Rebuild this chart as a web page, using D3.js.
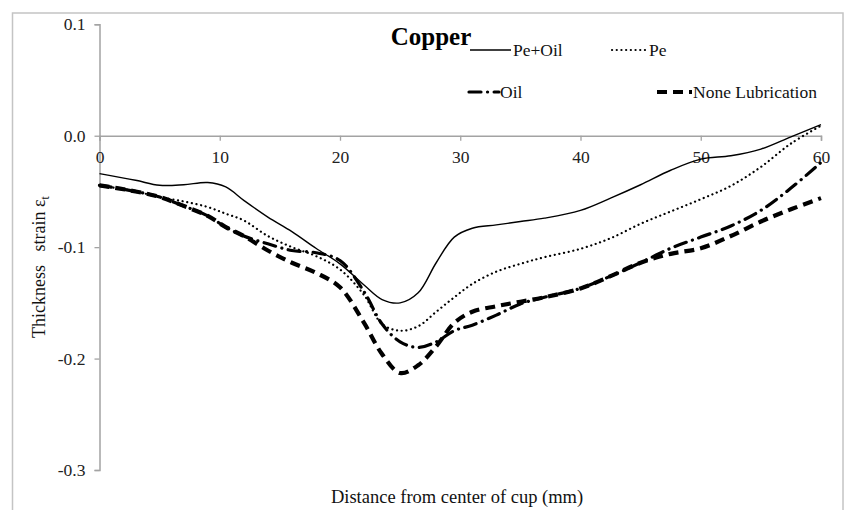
<!DOCTYPE html>
<html><head><meta charset="utf-8">
<script src="https://cdn.jsdelivr.net/npm/d3@7"></script>
<style>
html,body{margin:0;padding:0;background:#fff;}
svg{display:block;font-family:"Liberation Serif","Times New Roman",serif;}
</style></head>
<body>
<svg id="chart" width="846" height="510"></svg>
<script>
const xValues = [0,3,5,7,9,10.5,12,14,16,18,20,22,23.5,25,26.5,28,29.5,31,33,35,37,40,42.5,45,47.5,50,52.5,55,57.5,60];
const peOil = [-0.034,-0.040,-0.0445,-0.044,-0.042,-0.046,-0.058,-0.073,-0.086,-0.101,-0.115,-0.134,-0.147,-0.150,-0.141,-0.114,-0.091,-0.083,-0.080,-0.077,-0.074,-0.067,-0.056,-0.044,-0.031,-0.021,-0.018,-0.012,-0.001,0.010];
const pe = [-0.0445,-0.050,-0.055,-0.059,-0.064,-0.070,-0.076,-0.090,-0.100,-0.108,-0.120,-0.143,-0.169,-0.175,-0.171,-0.158,-0.145,-0.133,-0.122,-0.115,-0.109,-0.1015,-0.092,-0.079,-0.068,-0.057,-0.045,-0.028,-0.007,0.009];
const oil = [-0.0445,-0.050,-0.055,-0.063,-0.072,-0.082,-0.090,-0.097,-0.103,-0.105,-0.112,-0.140,-0.169,-0.185,-0.190,-0.185,-0.175,-0.170,-0.161,-0.151,-0.145,-0.137,-0.126,-0.114,-0.101,-0.091,-0.081,-0.067,-0.047,-0.024];
const noneLub = [-0.0445,-0.050,-0.055,-0.063,-0.072,-0.082,-0.090,-0.103,-0.114,-0.123,-0.136,-0.168,-0.196,-0.213,-0.206,-0.189,-0.168,-0.158,-0.153,-0.149,-0.145,-0.137,-0.126,-0.114,-0.106,-0.101,-0.090,-0.077,-0.066,-0.056];
const seriesNames = ["Pe+Oil","Pe","Oil","None Lubrication"];
const xTicks = [0,10,20,30,40,50,60];
const yTicks = [0.1,0.0,-0.1,-0.2,-0.3];
const chartTitle = "Copper";
const xTitle = "Distance from center of cup (mm)";

const svg = d3.select("#chart");
const axisColor = "#a3a3a3";

// outer border
svg.append("rect").attr("x",12.5).attr("y",13).attr("width",830.5).attr("height",510)
  .attr("fill","none").attr("stroke","#c4c4c4").attr("stroke-width",1.5);

const x = d3.scaleLinear().domain([0,60]).range([99.5,821]);
const y = d3.scaleLinear().domain([-0.3,0.1]).range([470,24.3]);

// y axis
const yAxis = d3.axisLeft(y).tickValues(yTicks).tickSize(5).tickFormat(d3.format(".1f"));
const gy = svg.append("g").attr("transform",`translate(${x(0)},0)`).call(yAxis);
gy.attr("font-family",null).attr("font-size",null);
gy.select(".domain").attr("stroke",axisColor).attr("stroke-width",1.5);
gy.selectAll(".tick line").attr("stroke",axisColor).attr("stroke-width",1.3);
gy.selectAll(".tick text").attr("font-size",17.5).attr("fill","#222").attr("x",-14)
  .text(d=>d3.format(".1f")(d).replace("\u2212","-"));

// x axis at y=0
const xAxis = d3.axisBottom(x).tickValues(xTicks).tickSize(5).tickFormat(d3.format("d"));
const gx = svg.append("g").attr("transform",`translate(0,${y(0)})`).call(xAxis);
gx.attr("font-family",null).attr("font-size",null);
gx.select(".domain").attr("stroke",axisColor).attr("stroke-width",1.5);
gx.selectAll(".tick line").attr("stroke",axisColor).attr("stroke-width",1.3);
gx.selectAll(".tick text").attr("font-size",17.5).attr("fill","#222").attr("y",15);

// lines
const line = d3.line().x((d,i)=>x(xValues[i])).y(d=>y(d)).curve(d3.curveCatmullRom.alpha(0.5));
const styles = [
  {data:peOil, w:1.4, dash:null, cap:"butt"},
  {data:pe, w:2.2, dash:"0.1 4.6", cap:"round"},
  {data:oil, w:3.2, dash:"12 6.5 0.1 6.5", cap:"round"},
  {data:noneLub, w:4.2, dash:"10 6", cap:"butt"}
];
styles.forEach(s=>{
  svg.append("path").datum(s.data).attr("d",line).attr("fill","none")
    .attr("stroke","#000").attr("stroke-width",s.w)
    .attr("stroke-dasharray",s.dash).attr("stroke-linecap",s.cap);
});

// title
svg.append("text").attr("x",431).attr("y",45).attr("text-anchor","middle")
  .attr("font-size",25).attr("font-weight","bold").text(chartTitle);

// legend
const legendItems = [
  {x1:470,x2:511,y:50,tx:513,s:0},
  {x1:612,x2:646,y:50,tx:649,s:1},
  {x1:469,x2:499,y:92,tx:500,s:2},
  {x1:657,x2:692,y:92,tx:693,s:3}
];
legendItems.forEach(l=>{
  const s = styles[l.s];
  svg.append("line").attr("x1",l.x1).attr("x2",l.x2).attr("y1",l.y).attr("y2",l.y)
    .attr("stroke","#000").attr("stroke-width",s.w).attr("stroke-dasharray",s.dash)
    .attr("stroke-linecap",s.cap);
  svg.append("text").attr("x",l.tx).attr("y",l.y+6).attr("font-size",17.5).attr("fill","#111")
    .text(seriesNames[l.s]);
});

// axis titles
svg.append("text").attr("x",457).attr("y",503).attr("text-anchor","middle")
  .attr("font-size",18.5).attr("fill","#111").text(xTitle);
const yl = svg.append("text").attr("transform","translate(45,267) rotate(-90)")
  .attr("text-anchor","middle").attr("font-size",18).attr("fill","#111")
  .style("white-space","pre");
yl.append("tspan").text("Thickness   strain ε");
yl.append("tspan").attr("font-size",12).attr("dy",4).text("t");
</script>
</body></html>
